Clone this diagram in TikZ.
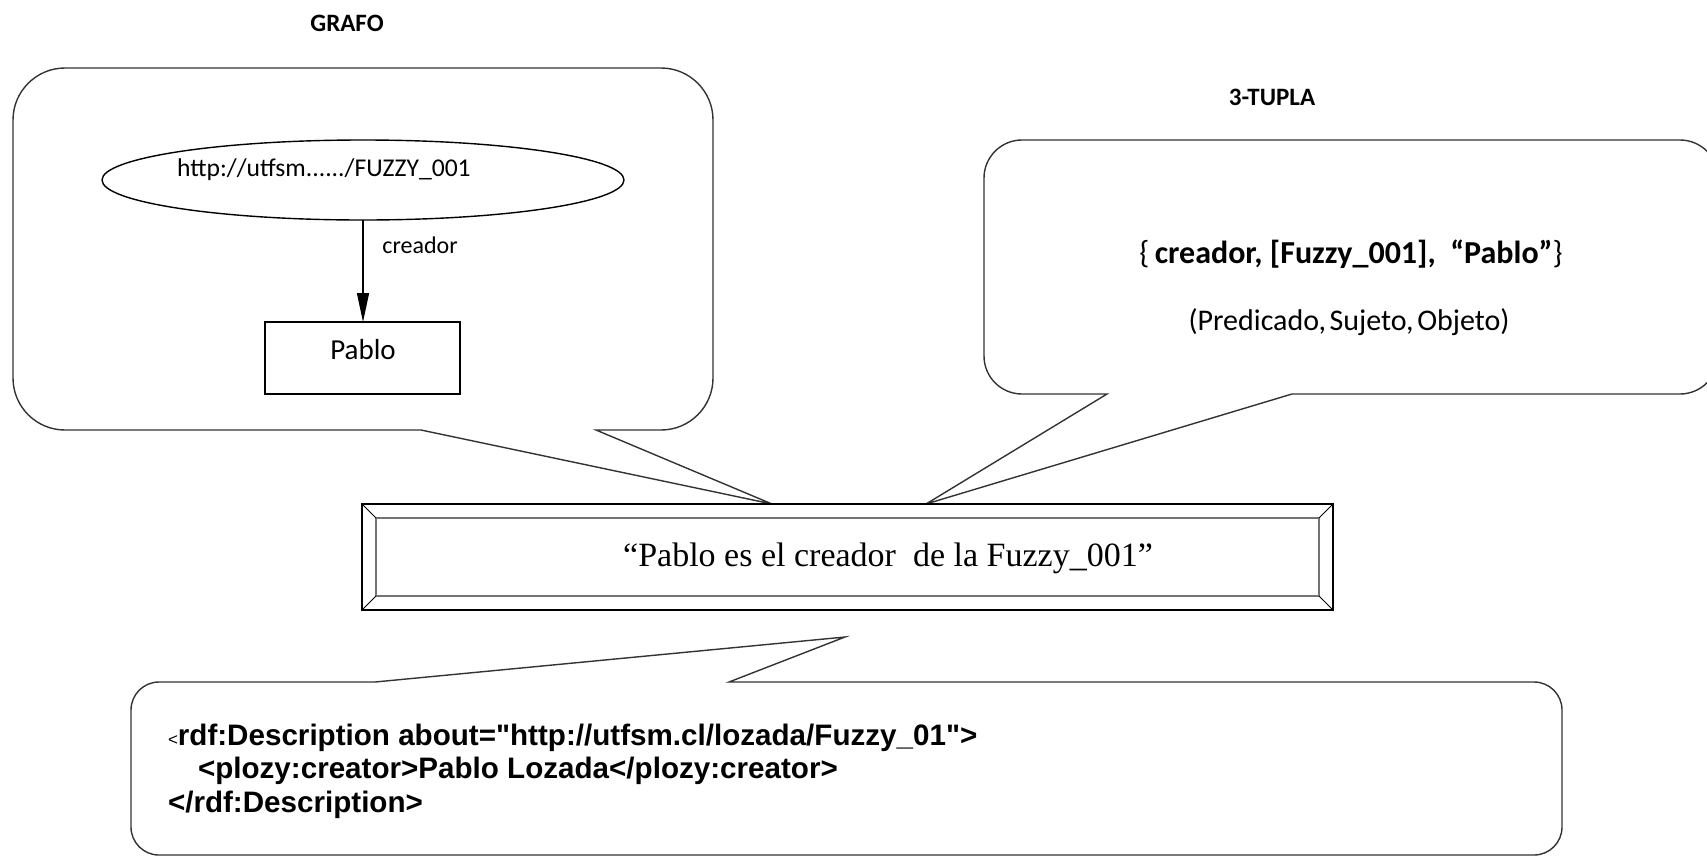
\documentclass[tikz,border=0pt]{standalone}
\usepackage{fontspec}
\setmainfont{Carlito}
\newfontfamily\arialfont{Liberation Sans}
\newfontfamily\seriffont{Liberation Serif}
\usetikzlibrary{shapes.geometric,arrows.meta,calc}
\begin{document}
\begin{tikzpicture}[x=1pt,y=-1pt,
  callout/.style={draw=black!80,line width=1.4pt,fill=white},
  plain/.style={inner sep=0pt,outer sep=0pt},
  titletxt/.style={plain,font=\fontsize{25pt}{30pt}\selectfont\bfseries},
  graphtxt/.style={plain,font=\fontsize{24pt}{28pt}\selectfont},
  xmltxt/.style={plain,anchor=base west,font=\arialfont\bfseries\fontsize{29.6pt}{33pt}\selectfont},
  flow/.style={draw=black,line width=1.4pt,-{Triangle[length=29pt,width=12pt]}},
  bevelin/.style={draw=black!55,line width=2.4pt},
  bevelcorner/.style={draw=black,line width=1pt}]
\useasboundingbox (0,0) rectangle (1707,857);
\clip (0,0) rectangle (1707,857);
\fill[white] (0,0) rectangle (1707,857);

% titles
\node[titletxt] (grafo) at (347,23) {GRAFO};
\node[titletxt] (tupla) at (1272,97) {3-TUPLA};

% left callout (graph)
\path[callout] (65,68) -- (661,68) arc[start angle=-90,end angle=0,radius=52]
  -- (713,378) arc[start angle=0,end angle=90,radius=52]
  -- (596,430) -- (772,504) -- (421,430)
  -- (65,430) arc[start angle=90,end angle=180,radius=52]
  -- (13,120) arc[start angle=180,end angle=270,radius=52] -- cycle;

% right callout (triple)
\path[callout] (1022,140) -- (1680,140) arc[start angle=-90,end angle=0,radius=38]
  -- (1718,356) arc[start angle=0,end angle=90,radius=38]
  -- (1292,394) -- (926,504) -- (1107,394)
  -- (1022,394) arc[start angle=90,end angle=180,radius=38]
  -- (984,178) arc[start angle=180,end angle=270,radius=38] -- cycle;

% bottom callout (RDF/XML)
\path[callout] (159,682) -- (375,682) -- (845,637) -- (729,682)
  -- (1534,682) arc[start angle=-90,end angle=0,radius=28]
  -- (1562,827) arc[start angle=0,end angle=90,radius=28]
  -- (159,855) arc[start angle=90,end angle=180,radius=28]
  -- (131,710) arc[start angle=180,end angle=270,radius=28] -- cycle;

% graph
\node[draw=black,line width=1.4pt,ellipse,minimum width=522pt,minimum height=80pt,plain] (uri) at (363,180) {};
\node[plain,font=\fontsize{25.6pt}{30pt}\selectfont] (uritxt) at (324,170) {http://utfsm....../FUZZY\_001};
\node[draw=black,line width=1.2pt,rectangle,minimum width=195pt,minimum height=72pt,plain] (pablo) at (362.5,358) {};
\node[plain,font=\fontsize{29pt}{33pt}\selectfont] (pablotxt) at (363,350) {Pablo};
\draw[flow] (uri.south) -- (uri.south |- pablo.north);
\node[graphtxt] (creador) at (420,245) {creador};

% triple
\node[plain,font=\fontsize{32pt}{36pt}\selectfont] (triple) at (1351,254) {\{\,\textbf{creador, [Fuzzy\_001], \ “Pablo”}\}};
\node[plain,font=\fontsize{30pt}{34pt}\selectfont] (roles) at (1349,322) {(Predicado,\hspace{0.12em}Sujeto,\hspace{0.12em}Objeto)};

% statement box with bevel
\node[draw=black,line width=1.6pt,rectangle,minimum width=971pt,minimum height=106pt,plain,fill=white] (stmt) at (847.5,557) {};
\draw[bevelin] ($(stmt.north west)+(14,14)$) rectangle ($(stmt.south east)+(-14,-14)$);
\draw[bevelcorner] (stmt.north west) -- ($(stmt.north west)+(14,14)$);
\draw[bevelcorner] (stmt.north east) -- ($(stmt.north east)+(-14,14)$);
\draw[bevelcorner] (stmt.south west) -- ($(stmt.south west)+(14,-14)$);
\draw[bevelcorner] (stmt.south east) -- ($(stmt.south east)+(-14,-14)$);
\node[plain,font=\seriffont\fontsize{34pt}{40pt}\selectfont] (stmttxt) at (888,558) {“Pablo es el creador\ \ de la Fuzzy\_001”};

% XML
\node[xmltxt] (x1) at (168,745) {{\mdseries\fontsize{17pt}{17pt}\selectfont<}rdf:Description about="http://utfsm.cl/lozada/Fuzzy\_01">};
\node[xmltxt] (x2) at (198,778.5) {<plozy:creator>Pablo Lozada</plozy:creator>};
\node[xmltxt] (x3) at (168,812) {</rdf:Description>};
\end{tikzpicture}
\end{document}
